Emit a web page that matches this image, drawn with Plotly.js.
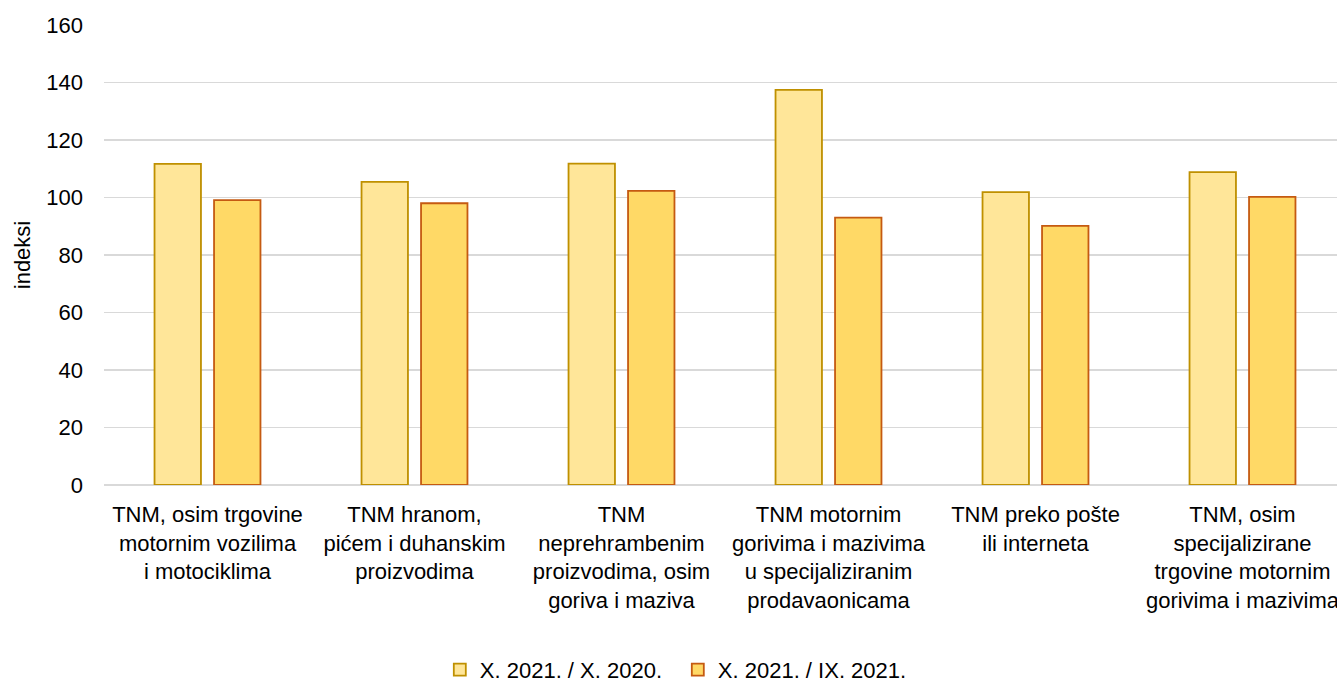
<!DOCTYPE html>
<html>
<head>
<meta charset="utf-8">
<script src="https://cdn.plot.ly/plotly-3.0.1.min.js"></script>
<style>
html, body { margin: 0; padding: 0; overflow: hidden; background: #fff; }
#chart { width: 1400px; height: 686px; }
</style>
</head>
<body>
<div id="chart"></div>
<script>
// Categories (tick labels)
const categories = [
  "TNM, osim trgovine<br>motornim vozilima<br>i motociklima",
  "TNM hranom,<br>pićem i duhanskim<br>proizvodima",
  "TNM<br>neprehrambenim<br>proizvodima, osim<br>goriva i maziva",
  "TNM motornim<br>gorivima i mazivima<br>u specijaliziranim<br>prodavaonicama",
  "TNM preko pošte<br>ili interneta",
  "TNM, osim<br>specijalizirane<br>trgovine motornim<br>gorivima i mazivima"
];
// Series names
const seriesNames = ["X. 2021. / X. 2020.", "X. 2021. / IX. 2021."];
// Series values
const valuesYoY = [111.7, 105.4, 111.8, 137.4, 101.9, 108.8];
const valuesMoM = [99.1, 98.0, 102.3, 93.0, 90.1, 100.2];
// Y axis ticks
const yTicks = [0, 20, 40, 60, 80, 100, 120, 140, 160];
const yAxisTitle = "indeksi";

const FONT = "'Liberation Sans', Arial, sans-serif";

const traces = [
  {
    type: "bar",
    name: seriesNames[0],
    x: categories,
    y: valuesYoY,
    marker: { color: "#FFE699", line: { color: "#BF9000", width: 1.8 } },
    hoverinfo: "y"
  },
  {
    type: "bar",
    name: seriesNames[1],
    x: categories,
    y: valuesMoM,
    marker: { color: "#FFD966", line: { color: "#C55A11", width: 1.8 } },
    hoverinfo: "y"
  }
];

const layout = {
  width: 1400,
  height: 686,
  margin: { l: 104, r: 54, t: 25, b: 201, autoexpand: false },
  paper_bgcolor: "#ffffff",
  plot_bgcolor: "#ffffff",
  font: { family: FONT, size: 22, color: "#000000" },
  barmode: "group",
  bargap: 0.425,
  bargroupgap: 0.22,
  showlegend: true,
  legend: {
    orientation: "h",
    x: 0.462,
    xanchor: "center",
    y: -0.402,
    yanchor: "middle",
    font: { family: FONT, size: 22, color: "#000000" },
    itemwidth: 30,
    entrywidth: 193,
    entrywidthmode: "pixels",
    traceorder: "normal"
  },
  xaxis: {
    type: "category",
    automargin: false,
    showgrid: false,
    showline: false,
    zeroline: false,
    ticks: "",
    tickangle: 0,
    ticklabelstandoff: 14,
    tickfont: { family: FONT, size: 22, color: "#000000" }
  },
  yaxis: {
    range: [0, 160],
    automargin: false,
    tickvals: yTicks,
    ticktext: yTicks.map(String),
    showgrid: true,
    gridcolor: "#d9d9d9",
    gridwidth: 1.6,
    zeroline: true,
    zerolinecolor: "#d9d9d9",
    zerolinewidth: 1.6,
    showline: false,
    ticks: "",
    ticklabelstandoff: 20,
    tickfont: { family: FONT, size: 22, color: "#000000" },
    title: { text: yAxisTitle, font: { family: FONT, size: 22, color: "#000000" }, standoff: 9 }
  }
};

Plotly.newPlot("chart", traces, layout, { staticPlot: true, displayModeBar: false });
</script>
</body>
</html>
